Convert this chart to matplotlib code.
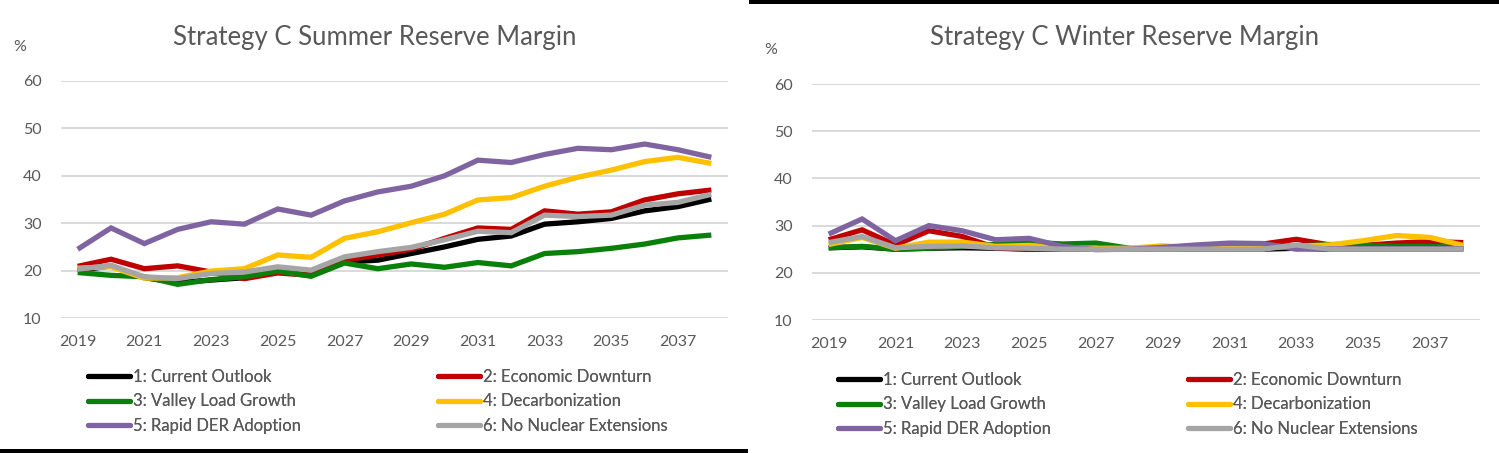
import matplotlib
matplotlib.use("Agg")
import matplotlib.pyplot as plt
from matplotlib.lines import Line2D

plt.rcParams['font.family'] = ['Lato', 'DejaVu Sans']

years = list(range(2019, 2039))
tick_years = [str(y) for y in range(2019, 2039, 2)]

scenarios = ["1: Current Outlook", "2: Economic Downturn", "3: Valley Load Growth",
             "4: Decarbonization", "5: Rapid DER Adoption", "6: No Nuclear Extensions"]
colors = ["#000000", "#C00000", "#0A7F0A", "#FFC000", "#8064A2", "#A5A5A5"]

# summer reserve margin (%)
summer_current = [20.0, 21.0, 18.5, 17.5, 18.0, 18.5, 19.8, 19.0, 21.8, 22.2,
                  23.6, 25.0, 26.6, 27.3, 29.8, 30.3, 31.0, 32.6, 33.5, 35.1]
summer_downturn = [20.9, 22.4, 20.4, 21.0, 19.7, 18.3, 19.5, 19.0, 22.2, 23.3,
                   24.5, 26.8, 29.0, 28.7, 32.6, 31.9, 32.4, 34.9, 36.2, 37.0]
summer_valley = [19.6, 19.0, 18.7, 17.1, 18.1, 18.7, 19.9, 18.8, 21.6, 20.4,
                 21.4, 20.7, 21.7, 21.0, 23.6, 24.0, 24.7, 25.6, 26.9, 27.5]
summer_decarb = [20.5, 20.8, 18.4, 18.5, 19.9, 20.4, 23.3, 22.8, 26.8, 28.2,
                 30.1, 31.9, 34.9, 35.4, 37.8, 39.7, 41.2, 43.0, 43.9, 42.6]
summer_der = [24.5, 29.0, 25.7, 28.7, 30.3, 29.8, 33.0, 31.7, 34.7, 36.6,
              37.8, 40.0, 43.3, 42.8, 44.5, 45.8, 45.5, 46.7, 45.5, 43.9]
summer_nonuke = [20.3, 21.1, 18.7, 18.3, 19.4, 19.7, 20.8, 20.1, 22.9, 24.0,
                 24.9, 26.5, 28.3, 28.0, 31.7, 31.4, 31.7, 33.8, 34.4, 36.1]

# winter reserve margin (%)
winter_current = [25.3, 25.5, 25.0, 25.2, 25.3, 25.2, 25.0, 25.0, 25.0, 25.0,
                  25.0, 25.0, 25.0, 25.0, 25.2, 25.0, 25.0, 25.0, 25.0, 25.0]
winter_downturn = [27.0, 29.1, 25.9, 28.9, 27.7, 25.3, 25.0, 25.5, 25.0, 25.0,
                   25.0, 25.2, 25.5, 26.1, 27.1, 25.9, 25.8, 26.3, 26.6, 26.4]
winter_valley = [25.3, 25.6, 25.0, 25.2, 25.6, 26.0, 26.5, 26.1, 26.3, 25.2,
                 25.0, 25.2, 25.5, 25.8, 25.7, 26.0, 25.9, 25.6, 25.6, 25.3]
winter_decarb = [26.0, 27.5, 25.2, 26.5, 26.5, 25.6, 25.8, 25.3, 25.2, 25.2,
                 25.7, 25.3, 25.2, 25.3, 25.6, 25.9, 26.8, 27.9, 27.5, 25.8]
winter_der = [28.2, 31.4, 26.8, 30.0, 28.9, 27.0, 27.3, 25.6, 24.9, 25.0,
              25.4, 25.9, 26.3, 26.2, 25.0, 25.1, 25.1, 25.1, 25.1, 25.1]
winter_nonuke = [26.4, 27.7, 25.3, 25.6, 25.7, 25.3, 25.2, 25.0, 25.0, 25.0,
                 25.0, 25.0, 25.0, 25.0, 25.9, 25.0, 25.0, 25.0, 25.0, 25.0]

summer = [summer_current, summer_downturn, summer_valley, summer_decarb, summer_der, summer_nonuke]
winter = [winter_current, winter_downturn, winter_valley, winter_decarb, winter_der, winter_nonuke]

W, H = 1499, 453
TXT = "#595959"
GRID = "#D9D9D9"

fig = plt.figure(figsize=(W / 100, H / 100), dpi=100)


def px_axes(x0, y_top, x1, y_bot):
    return fig.add_axes([x0 / W, 1 - y_bot / H, (x1 - x0) / W, (y_bot - y_top) / H])


def draw_panel(ax, series, title, title_xy, pct_xy, leg_x, leg_y):
    x = list(range(len(years)))
    for vals, c in zip(series, colors):
        ax.plot(x, vals, color=c, lw=3.8, solid_joinstyle='miter', solid_capstyle='butt')
    ax.set_xlim(-0.5, len(years) - 0.5)
    ax.set_ylim(10, 60)
    ax.set_yticks([10, 20, 30, 40, 50, 60])
    ax.set_xticks(x[::2])
    ax.set_xticklabels(tick_years)
    ax.grid(axis='y', color=GRID, lw=1.4)
    ax.set_axisbelow(True)
    for s in ax.spines.values():
        s.set_visible(False)
    ax.tick_params(length=0, colors=TXT, labelsize=11.5, pad=12)
    ax.tick_params(axis='y', pad=14)
    fig.text(title_xy[0] / W, 1 - title_xy[1] / H, title, ha='center', va='center',
             fontsize=18.5, color=TXT)
    fig.text(pct_xy[0] / W, 1 - pct_xy[1] / H, "%", ha='center', va='center',
             fontsize=11.5, color=TXT)

    handles = [Line2D([], [], color=c, lw=3.7, solid_capstyle='round') for c in colors]
    for col in range(2):
        idx = [col, col + 2, col + 4]
        leg = fig.legend([handles[i] for i in idx], [scenarios[i] for i in idx],
                         loc='upper left',
                         bbox_to_anchor=(leg_x[col] / W, 1 - leg_y / H),
                         frameon=False, fontsize=12, handlelength=2.5,
                         handletextpad=0.2, labelspacing=0.5, borderpad=0,
                         borderaxespad=0, labelcolor=TXT)
        fig.add_artist(leg)


ax1 = px_axes(61, 81, 728, 318)
draw_panel(ax1, summer, "Strategy C Summer Reserve Margin", (375, 37), (20, 47),
           (88, 438), 369)

ax2 = px_axes(812, 84, 1480, 320)
draw_panel(ax2, winter, "Strategy C Winter Reserve Margin", (1125, 38), (771, 50),
           (838, 1188), 372)

# black panel borders
fig.add_artist(plt.Rectangle((0, 0), 748 / W, 4 / H, transform=fig.transFigure,
                             color="black", lw=0))
fig.add_artist(plt.Rectangle((749 / W, 1 - 4 / H), 1 - 749 / W, 4 / H,
                             transform=fig.transFigure, color="black", lw=0))

fig.savefig("out.png", dpi=100)
